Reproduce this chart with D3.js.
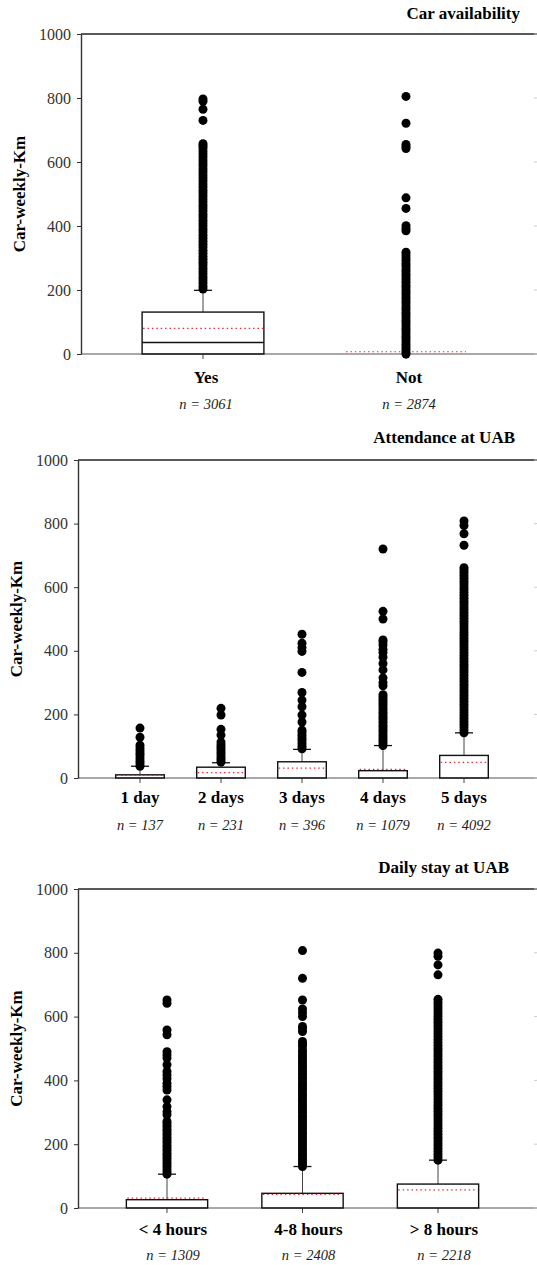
<!DOCTYPE html>
<html>
<head>
<meta charset="utf-8">
<script src="https://cdn.jsdelivr.net/npm/d3@7"></script>
<style>
  body { margin: 0; background: #fff; }
  text { font-family: "Liberation Serif", "Times New Roman", serif; }
</style>
</head>
<body>
<div class="canva"></div>
<script>
// ---- data ----
const yTicks = [0, 200, 400, 600, 800, 1000];

// panel 1: car availability
const carCats = ["Yes", "Not"];
const carN = ["n = 3061", "n = 2874"];
const carQ1 = [0, 0];
const carMedian = [36, 0];
const carQ3 = [131, 0];
const carWhisker = [199, 0];
const carMean = [80, 7];
const carOutliers = [
  [203, 212, 222, 231, 240, 250, 259, 268, 278, 287, 296, 305, 315, 324, 334, 343, 352, 362, 371, 381,
   390, 400, 409, 418, 428, 437, 447, 456, 465, 475, 484, 494, 503, 512, 522, 531, 541, 550, 559, 569,
   578, 588, 597, 606, 616, 625, 634, 644, 651, 657, 730, 765, 790, 797],
  [0, 6, 14, 22, 30, 38, 47, 55, 63, 72, 80, 88, 97, 105, 113, 122, 130, 139, 147, 156, 164, 173, 181,
   190, 198, 207, 215, 224, 232, 241, 249, 258, 266, 275, 283, 292, 300, 309, 318, 385, 392, 401, 455,
   488, 642, 648, 655, 721, 805]
];

// panel 2: attendance at UAB
const attCats = ["1 day", "2 days", "3 days", "4 days", "5 days"];
const attN = ["n = 137", "n = 231", "n = 396", "n = 1079", "n = 4092"];
const attQ1 = [0, 0, 0, 0, 0];
const attMedian = [0, 0, 0, 0, 0];
const attQ3 = [10, 34, 51, 23, 71];
const attWhisker = [37, 48, 90, 102, 142];
const attMean = [8, 17, 31, 27, 49];
const attOutliers = [
  [37, 45, 53, 61, 70, 78, 86, 94, 103, 128, 157],
  [50, 57, 64, 72, 80, 88, 96, 104, 113, 135, 153, 198, 219],
  [92, 100, 108, 117, 125, 134, 142, 150, 176, 198, 224, 245, 269, 332, 398, 410, 424, 452],
  [102, 110, 118, 126, 134, 142, 150, 158, 166, 175, 183, 191, 199, 207, 215, 223, 231, 239, 247, 255,
   262, 290, 300, 315, 340, 360, 380, 395, 405, 418, 428, 434, 500, 524, 720],
  [142, 151, 160, 169, 178, 187, 196, 205, 214, 223, 232, 241, 250, 259, 268, 277, 286, 295, 304, 313,
   322, 331, 340, 349, 358, 367, 376, 385, 394, 403, 412, 421, 430, 439, 448, 457, 466, 475, 484, 493,
   502, 511, 520, 529, 538, 547, 556, 565, 574, 583, 592, 601, 610, 619, 628, 637, 646, 654, 661, 732,
   768, 794, 808]
];

// panel 3: daily stay at UAB
const stayCats = ["< 4 hours", "4-8 hours", "> 8 hours"];
const stayN = ["n = 1309", "n = 2408", "n = 2218"];
const stayQ1 = [0, 0, 0];
const stayMedian = [0, 0, 0];
const stayQ3 = [26, 46, 75];
const stayWhisker = [106, 130, 150];
const stayMean = [31, 43, 57];
const stayOutliers = [
  [106, 114, 122, 131, 139, 147, 156, 164, 172, 181, 189, 197, 206, 214, 222, 231, 239, 247, 256, 264,
   271, 292, 302, 318, 339, 370, 381, 391, 405, 417, 428, 449, 470, 480, 490, 543, 558, 642, 652],
  [130, 138, 147, 155, 164, 172, 181, 189, 198, 206, 215, 223, 232, 240, 249, 257, 266, 274, 283, 291,
   300, 308, 317, 325, 334, 342, 351, 359, 368, 376, 385, 393, 402, 410, 419, 427, 436, 444, 453, 461,
   470, 478, 487, 495, 506, 514, 522, 553, 561, 569, 600, 612, 624, 652, 720, 807],
  [150, 159, 168, 177, 186, 195, 204, 213, 222, 231, 240, 249, 258, 267, 276, 285, 294, 303, 312, 321,
   330, 339, 348, 357, 366, 375, 384, 393, 402, 411, 420, 429, 438, 447, 456, 465, 474, 483, 492, 501,
   510, 519, 528, 537, 546, 555, 564, 573, 582, 591, 600, 609, 618, 627, 636, 645, 654, 731, 762, 789, 799]
];

const width = 537, height = 1265;
const serif = "'Liberation Serif', 'Times New Roman', serif";

const svg = d3.select(".canva").append("svg")
    .attr("width", width)
    .attr("height", height);

function buildRows(cats, n, q1, med, q3, wh, mean, outl) {
  return cats.map((c, i) => ({cat: c, n: n[i], q1: q1[i], med: med[i], q3: q3[i],
                               wh: wh[i], mean: mean[i], out: outl[i]}));
}

function drawPanel(rows, title, lay) {
  const g = svg.append("g");
  const y = d3.scaleLinear().domain([0, 1000]).range([lay.y0, lay.y1]);
  const x = d3.scalePoint().domain(rows.map(d => d.cat)).range(lay.xr);
  const step = (lay.xr[1] - lay.xr[0]) / Math.max(1, rows.length - 1);
  const bw = step * 0.6;

  // frame: top and bottom lines
  g.append("line").attr("x1", lay.ax).attr("x2", width + 2)
    .attr("y1", y(1000)).attr("y2", y(1000))
    .attr("stroke", "#222").attr("stroke-width", 1.6);
  g.append("line").attr("x1", lay.ax).attr("x2", width + 2)
    .attr("y1", y(0)).attr("y2", y(0))
    .attr("stroke", "#555").attr("stroke-width", 1.2);

  // faint right-hand ticks
  g.selectAll(".rtick").data(yTicks).enter().append("line")
    .attr("x1", width - 3).attr("x2", width)
    .attr("y1", d => y(d)).attr("y2", d => y(d))
    .attr("stroke", "#ccc");

  // left axis
  const yAxis = d3.axisLeft(y).tickValues(yTicks).tickFormat(d3.format("d"))
    .tickSize(4).tickPadding(6).tickSizeOuter(0);
  const ya = g.append("g").attr("transform", `translate(${lay.ax},0)`).call(yAxis);
  ya.select(".domain").attr("stroke", "#333").attr("stroke-width", 1.4);
  ya.selectAll(".tick line").attr("stroke", "#333");
  ya.selectAll(".tick text")
    .style("font-family", serif)
    .attr("font-size", 16).attr("fill", "#333");

  // bottom ticks
  g.selectAll(".btick").data(rows).enter().append("line")
    .attr("x1", d => x(d.cat)).attr("x2", d => x(d.cat))
    .attr("y1", y(0)).attr("y2", y(0) + 5)
    .attr("stroke", "#444");

  // whiskers
  const wr = rows.filter(d => d.wh > d.q3);
  g.selectAll(".whisk").data(wr).enter().append("line")
    .attr("x1", d => x(d.cat)).attr("x2", d => x(d.cat))
    .attr("y1", d => y(d.q3)).attr("y2", d => y(d.wh))
    .attr("stroke", "#444").attr("stroke-width", 1);
  g.selectAll(".cap").data(wr).enter().append("line")
    .attr("x1", d => x(d.cat) - 9).attr("x2", d => x(d.cat) + 9)
    .attr("y1", d => y(d.wh)).attr("y2", d => y(d.wh))
    .attr("stroke", "#111").attr("stroke-width", 1.3);

  // boxes
  g.selectAll(".box").data(rows.filter(d => d.q3 > d.q1)).enter().append("rect")
    .attr("x", d => x(d.cat) - bw / 2)
    .attr("y", d => y(d.q3))
    .attr("width", bw)
    .attr("height", d => y(d.q1) - y(d.q3))
    .attr("fill", "none")
    .attr("stroke", "#111").attr("stroke-width", 1.4);

  // medians
  g.selectAll(".med").data(rows.filter(d => d.med > 0)).enter().append("line")
    .attr("x1", d => x(d.cat) - bw / 2).attr("x2", d => x(d.cat) + bw / 2)
    .attr("y1", d => y(d.med)).attr("y2", d => y(d.med))
    .attr("stroke", "#111").attr("stroke-width", 1.3);

  // means (red dotted)
  g.selectAll(".mean").data(rows).enter().append("line")
    .attr("x1", d => x(d.cat) - bw / 2 + 1).attr("x2", d => x(d.cat) + bw / 2 - 1)
    .attr("y1", d => y(d.mean)).attr("y2", d => y(d.mean))
    .attr("stroke", "#e8202a").attr("stroke-width", 1.2)
    .attr("stroke-dasharray", "1.4,3");

  // outliers
  rows.forEach(d => {
    g.selectAll(null).data(d.out).enter().append("circle")
      .attr("cx", x(d.cat))
      .attr("cy", v => y(v))
      .attr("r", 4.5)
      .attr("fill", "#000");
  });

  // category labels
  g.selectAll(".cat").data(rows).enter().append("text")
    .attr("x", d => x(d.cat) + lay.dx)
    .attr("y", lay.catY)
    .attr("text-anchor", "middle")
    .style("font-family", serif)
    .attr("font-weight", "bold").attr("font-size", 17)
    .text(d => d.cat);

  // n labels
  g.selectAll(".nlab").data(rows).enter().append("text")
    .attr("x", d => x(d.cat) + lay.dx)
    .attr("y", lay.nY)
    .attr("text-anchor", "middle")
    .style("font-family", serif)
    .attr("font-style", "italic").attr("font-size", 14.5).attr("fill", "#222")
    .text(d => d.n);

  // title
  g.append("text")
    .attr("x", lay.titleX).attr("y", lay.titleY)
    .attr("text-anchor", "end")
    .style("font-family", serif)
    .attr("font-weight", "bold").attr("font-size", 17)
    .text(title);

  // y axis label
  g.append("text")
    .attr("transform", `translate(${lay.ax - 56},${(lay.y0 + lay.y1) / 2}) rotate(-90)`)
    .attr("text-anchor", "middle")
    .style("font-family", serif)
    .attr("font-weight", "bold").attr("font-size", 17)
    .text("Car-weekly-Km");
}

drawPanel(buildRows(carCats, carN, carQ1, carMedian, carQ3, carWhisker, carMean, carOutliers),
  "Car availability",
  {y0: 354, y1: 34, ax: 81, xr: [203, 406], dx: 3, catY: 383, nY: 409, titleX: 520, titleY: 19});

drawPanel(buildRows(attCats, attN, attQ1, attMedian, attQ3, attWhisker, attMean, attOutliers),
  "Attendance at UAB",
  {y0: 778, y1: 460, ax: 78, xr: [140, 464], dx: 0, catY: 803, nY: 830, titleX: 515, titleY: 443});

drawPanel(buildRows(stayCats, stayN, stayQ1, stayMedian, stayQ3, stayWhisker, stayMean, stayOutliers),
  "Daily stay at UAB",
  {y0: 1208, y1: 889, ax: 78, xr: [167, 438], dx: 6, catY: 1235, nY: 1260, titleX: 509, titleY: 873});
</script>
</body>
</html>
